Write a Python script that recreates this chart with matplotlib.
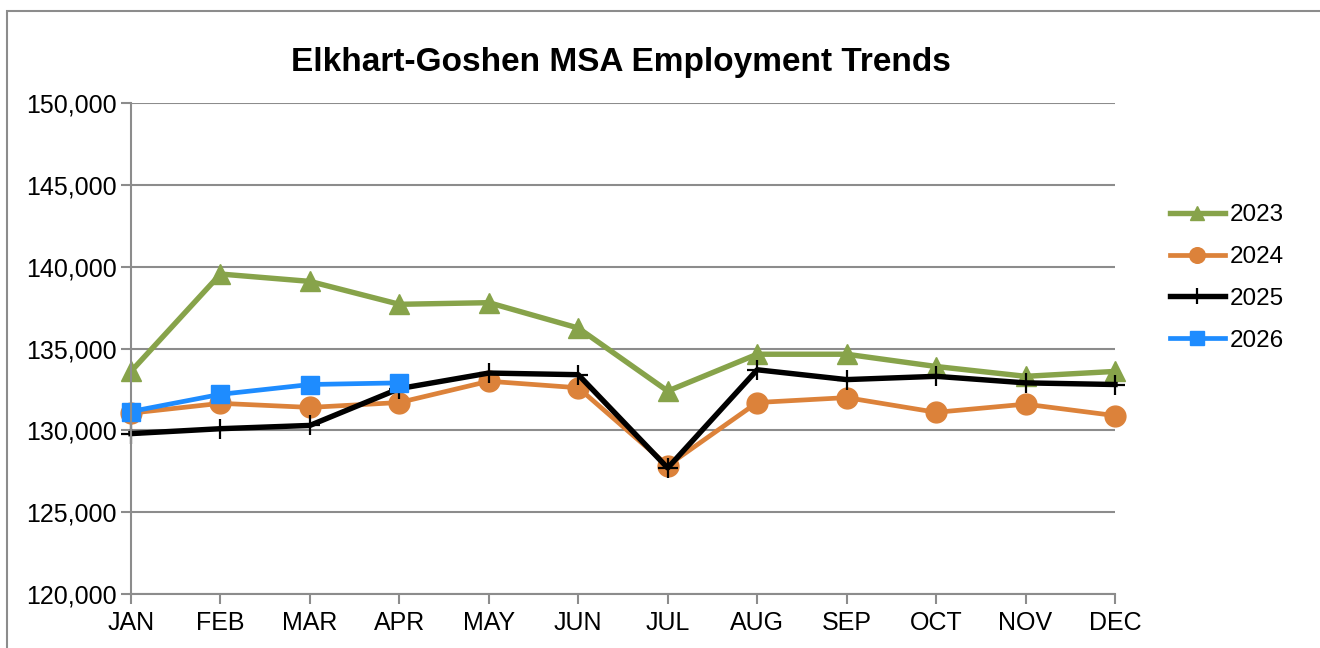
import matplotlib.pyplot as plt
from matplotlib.patches import Rectangle
from matplotlib.ticker import FuncFormatter

months = ['JAN', 'FEB', 'MAR', 'APR', 'MAY', 'JUN',
          'JUL', 'AUG', 'SEP', 'OCT', 'NOV', 'DEC']

emp_2023 = [133600, 139550, 139100, 137700, 137800, 136250,
            132400, 134650, 134650, 133900, 133300, 133600]
emp_2024 = [131050, 131650, 131400, 131700, 133000, 132600,
            127850, 131700, 132000, 131100, 131600, 130900]
emp_2025 = [129800, 130100, 130300, 132550, 133500, 133400,
            127700, 133700, 133100, 133300, 132900, 132800]
emp_2026 = [131150, 132200, 132800, 132900]

plt.rcParams['font.family'] = ['Liberation Sans', 'DejaVu Sans']

fig = plt.figure(figsize=(13.2, 6.48), dpi=100)
ax = fig.add_axes([131 / 1320, 1 - 594 / 648, (1115 - 131) / 1320, (594 - 103) / 648])

x = list(range(len(months)))
ax.plot(x, emp_2023, color='#87A34A', lw=3.9, marker='^', ms=14, label='2023', clip_on=False)
ax.plot(x, emp_2024, color='#DC823A', lw=3.4, marker='o', ms=15, label='2024', clip_on=False)
ax.plot(x, emp_2025, color='black', lw=3.9, marker='+', ms=15, mew=1.6, label='2025', clip_on=False)
ax.plot(x[:len(emp_2026)], emp_2026, color='#1E8CFF', lw=3.4, marker='s', ms=13,
        label='2026', clip_on=False)

ax.set_xlim(0, 11)
ax.set_ylim(120000, 150000)
ax.set_yticks(range(120000, 150001, 5000))
ax.yaxis.set_major_formatter(FuncFormatter(lambda v, p: '{:,.0f}'.format(v)))
ax.set_xticks(x)
ax.set_xticklabels(months)

ax.grid(axis='y', color='#8C8C8C', lw=1.5)
ax.set_axisbelow(True)
for s in ['top', 'right']:
    ax.spines[s].set_visible(False)
for s in ['left', 'bottom']:
    ax.spines[s].set_color('#8C8C8C')
    ax.spines[s].set_linewidth(1.5)
ax.tick_params(axis='both', colors='#8C8C8C', labelcolor='black', labelsize=18,
               length=7, width=1.5)
ax.tick_params(axis='x', pad=5)
ax.tick_params(axis='y', pad=3)

fig.text(0.5 * (293 + 948) / 1320, 1 - 63 / 648, 'Elkhart-Goshen MSA Employment Trends',
         ha='center', va='center', fontsize=24, fontweight='bold')

ax.legend(loc='center left', bbox_to_anchor=(1148 / 1320, 1 - 278 / 648),
          bbox_transform=fig.transFigure, frameon=False, fontsize=17.5,
          handlelength=2.25, handletextpad=0.2, labelspacing=0.82, markerscale=0.75)

fig.patches.append(Rectangle((7 / 1320, -0.1), 1.2, 1 - 11 / 648 + 0.1,
                             transform=fig.transFigure, fill=False,
                             edgecolor='#8C8C8C', lw=1.5, clip_on=False))

fig.savefig('out.png', dpi=100)
